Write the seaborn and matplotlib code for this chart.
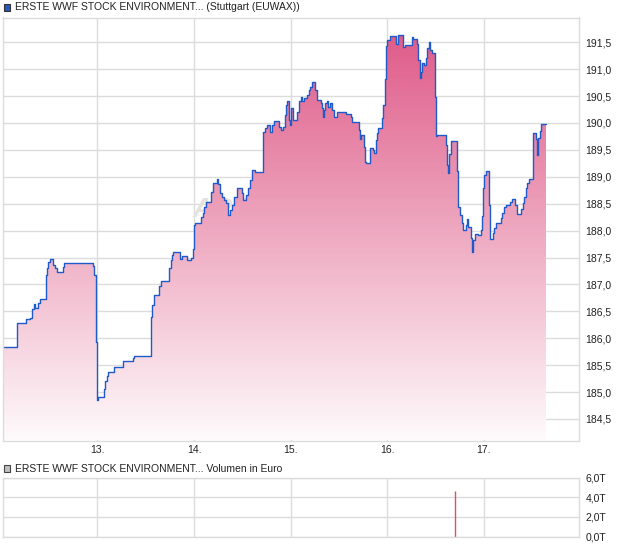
import numpy as np
import pandas as pd
import matplotlib
matplotlib.use("Agg")
import matplotlib.pyplot as plt
from matplotlib.patches import Rectangle, Polygon
import seaborn as sns

# intraday price (step series), day of month -> price in EUR
days = [12.021, 12.166, 12.218, 12.259, 12.301, 12.318, 12.324, 12.339, 12.352, 12.387,
        12.404, 12.469, 12.480, 12.490, 12.508, 12.542, 12.560, 12.583, 12.646, 12.656,
        12.956, 12.967, 12.984, 12.988, 12.995, 13.008, 13.067, 13.078, 13.095, 13.112,
        13.174, 13.261, 13.371, 13.381, 13.551, 13.568, 13.589, 13.640, 13.655, 13.741,
        13.762, 13.775, 13.785, 13.858, 13.879, 13.927, 13.969, 13.987, 14.000, 14.010,
        14.069, 14.090, 14.104, 14.124, 14.176, 14.194, 14.235, 14.252, 14.269, 14.287,
        14.314, 14.332, 14.355, 14.373, 14.397, 14.418, 14.442, 14.494, 14.511, 14.536,
        14.563, 14.580, 14.598, 14.632, 14.712, 14.736, 14.753, 14.788, 14.805, 14.829,
        14.884, 14.898, 14.925, 14.940, 14.953, 14.964, 14.984, 14.998, 15.008, 15.029,
        15.064, 15.088, 15.106, 15.122, 15.140, 15.168, 15.189, 15.202, 15.223, 15.257,
        15.272, 15.313, 15.326, 15.334, 15.344, 15.358, 15.375, 15.392, 15.409, 15.427,
        15.451, 15.485, 15.575, 15.627, 15.640, 15.707, 15.717, 15.731, 15.762, 15.772,
        15.782, 15.824, 15.858, 15.868, 15.883, 15.893, 15.910, 15.943, 15.959, 15.979,
        15.993, 16.005, 16.026, 16.093, 16.111, 16.169, 16.187, 16.256, 16.273, 16.308,
        16.324, 16.342, 16.352, 16.366, 16.383, 16.401, 16.418, 16.435, 16.449, 16.469,
        16.497, 16.505, 16.515, 16.611, 16.625, 16.632, 16.642, 16.660, 16.728, 16.739,
        16.756, 16.774, 16.785, 16.819, 16.832, 16.842, 16.867, 16.884, 16.894, 16.912,
        16.946, 16.974, 16.984, 16.992, 17.005, 17.026, 17.060, 17.067, 17.095, 17.106,
        17.126, 17.178, 17.195, 17.212, 17.230, 17.275, 17.292, 17.326, 17.344, 17.389,
        17.406, 17.423, 17.440, 17.454, 17.468, 17.510, 17.516, 17.544, 17.558, 17.568,
        17.585, 17.596]
prices = [185.84, 186.29, 186.28, 186.36, 186.37, 186.41, 186.54, 186.63, 186.57, 186.66,
          186.73, 187.17, 187.30, 187.42, 187.47, 187.36, 187.30, 187.23, 187.33, 187.39,
          187.35, 187.17, 187.05, 185.93, 184.86, 184.90, 185.05, 185.21, 185.30, 185.38,
          185.46, 185.58, 185.64, 185.67, 186.40, 186.62, 186.80, 186.97, 187.07, 187.30,
          187.45, 187.55, 187.60, 187.48, 187.52, 187.45, 187.50, 187.65, 188.10, 188.14,
          188.26, 188.32, 188.44, 188.54, 188.72, 188.89, 188.95, 188.86, 188.69, 188.63,
          188.57, 188.51, 188.29, 188.38, 188.48, 188.63, 188.79, 188.69, 188.57, 188.66,
          188.79, 188.94, 189.13, 189.08, 189.84, 189.90, 189.96, 189.84, 189.96, 190.04,
          189.93, 189.87, 189.93, 190.15, 190.33, 190.41, 190.06, 189.96, 190.27, 190.06,
          190.21, 190.40, 190.48, 190.41, 190.46, 190.52, 190.61, 190.67, 190.76, 190.61,
          190.43, 190.38, 190.27, 190.12, 190.25, 190.37, 190.41, 190.30, 190.38, 190.24,
          190.11, 190.21, 190.16, 190.11, 190.02, 189.87, 189.70, 189.78, 189.56, 189.28,
          189.25, 189.53, 189.50, 189.45, 189.68, 189.81, 189.91, 190.09, 190.33, 190.82,
          191.43, 191.55, 191.61, 191.47, 191.64, 191.42, 191.45, 191.59, 191.56, 191.47,
          191.17, 190.83, 190.95, 191.12, 191.08, 191.20, 191.39, 191.51, 191.35, 191.30,
          190.49, 189.75, 189.78, 189.59, 189.22, 189.07, 189.43, 189.67, 189.10, 188.44,
          188.29, 188.15, 188.02, 188.10, 188.21, 188.07, 187.86, 187.61, 187.83, 187.94,
          187.92, 188.01, 188.27, 188.79, 189.03, 189.10, 188.48, 187.84, 187.95, 188.04,
          188.14, 188.23, 188.32, 188.43, 188.48, 188.54, 188.58, 188.48, 188.31, 188.41,
          188.51, 188.63, 188.79, 188.89, 188.95, 189.37, 189.81, 189.70, 189.41, 189.73,
          189.86, 189.98]
last_day = 17.648

# traded volume in euro (thousands, "T")
volume_days = [16.705]
volume_t = [4.63]

price_ticks = [184.5, 185.0, 185.5, 186.0, 186.5, 187.0, 187.5, 188.0,
               188.5, 189.0, 189.5, 190.0, 190.5, 191.0, 191.5]
day_ticks = [13, 14, 15, 16, 17]
day_labels = ["13.", "14.", "15.", "16.", "17."]
volume_ticks = [0, 2, 4, 6]
volume_labels = ["0,0T", "2,0T", "4,0T", "6,0T"]

title_price = "ERSTE WWF STOCK ENVIRONMENT... (Stuttgart (EUWAX))"
title_volume = "ERSTE WWF STOCK ENVIRONMENT... Volumen in Euro"


def main():
    sns.set_style("white")
    plt.rcParams['font.family'] = ['Liberation Sans', 'DejaVu Sans']

    W, H = 620, 546
    grid_col = '#dcdcdc'
    line_col = '#1f5ac8'
    xlo, xhi = 12.016, 17.984
    ylo, yhi = 184.10, 191.96

    fig = plt.figure(figsize=(W / 100, H / 100), dpi=100)
    ax = fig.add_axes([2.5 / W, 1 - 440.5 / H, 576 / W, 423 / H])
    ax2 = fig.add_axes([2.5 / W, 1 - 536.7 / H, 576 / W, 59.2 / H])

    df = pd.DataFrame({"day": days + [last_day], "price": prices + [prices[-1]]})

    # gradient area under the step line
    xs = np.repeat(df["day"].values, 2)[1:]
    ys = np.repeat(df["price"].values, 2)[:-1]
    verts = list(zip(xs, ys)) + [(xs[-1], ylo), (xs[0], ylo)]
    poly = Polygon(verts, closed=True, facecolor='none', edgecolor='none')
    ax.add_patch(poly)

    f = np.linspace(0, 1, 300)[:, None]
    a = 0.03 + 0.97 * f
    base = np.array([223, 90, 136]) / 255.0
    img = (1 - a)[..., None] * np.ones(3) + a[..., None] * base
    img = np.repeat(img, 2, axis=1)
    im = ax.imshow(img, extent=[xlo, xhi, ylo, 191.7], origin='lower',
                   aspect='auto', zorder=1, interpolation='bilinear')
    im.set_clip_path(poly)

    ax.text(13.99, 188.25, "ARIVA", fontsize=20, fontstyle='italic',
            fontweight='bold', color='#e6e2de', zorder=0.6)

    sns.lineplot(data=df, x="day", y="price", ax=ax, drawstyle='steps-post',
                 color=line_col, linewidth=1.0, estimator=None, sort=False, zorder=2)

    ax.set_xlim(xlo, xhi)
    ax.set_ylim(ylo, yhi)
    ax.set_xticks(day_ticks)
    ax.set_xticklabels(day_labels)
    ax.set_yticks(price_ticks)
    ax.set_yticklabels([f"{v:.1f}".replace('.', ',') for v in price_ticks])
    ax.yaxis.tick_right()
    ax.set_xlabel("")
    ax.set_ylabel("")
    ax.set_axisbelow(True)
    ax.grid(True, color=grid_col, lw=1)
    ax.tick_params(length=0, labelsize=7.5, colors='#222222')
    ax.tick_params(axis='y', pad=5)
    ax.tick_params(axis='x', pad=3)
    for s in ax.spines.values():
        s.set_color(grid_col)
        s.set_linewidth(1)

    # volume panel
    ax2.vlines(volume_days, 0, volume_t, color='#e0505e', lw=1.0, zorder=2)
    ax2.set_xlim(xlo, xhi)
    ax2.set_ylim(0, 6)
    ax2.set_xticks(day_ticks)
    ax2.set_xticklabels([])
    ax2.set_yticks(volume_ticks)
    ax2.set_yticklabels(volume_labels)
    ax2.yaxis.tick_right()
    ax2.set_axisbelow(True)
    ax2.grid(True, color=grid_col, lw=1)
    ax2.tick_params(length=0, labelsize=7.5, colors='#222222')
    ax2.tick_params(axis='y', pad=5)
    for s in ax2.spines.values():
        s.set_color(grid_col)
        s.set_linewidth(1)

    # legend boxes
    fig.add_artist(Rectangle((3.5 / W, 1 - 11 / H), 7 / W, 7 / H, transform=fig.transFigure,
                             facecolor='#2a58c0', edgecolor='#333333', lw=0.8))
    fig.text(15 / W, 1 - 7.5 / H, title_price, fontsize=7.5, va='center', color='#222222')
    fig.add_artist(Rectangle((3.5 / W, 1 - 472 / H), 7 / W, 7 / H, transform=fig.transFigure,
                             facecolor='#c0c0c0', edgecolor='#444444', lw=0.8))
    fig.text(15 / W, 1 - 468.5 / H, title_volume, fontsize=7.5, va='center', color='#222222')

    plt.savefig("out.png", dpi=100)


if __name__ == "__main__":
    main()
